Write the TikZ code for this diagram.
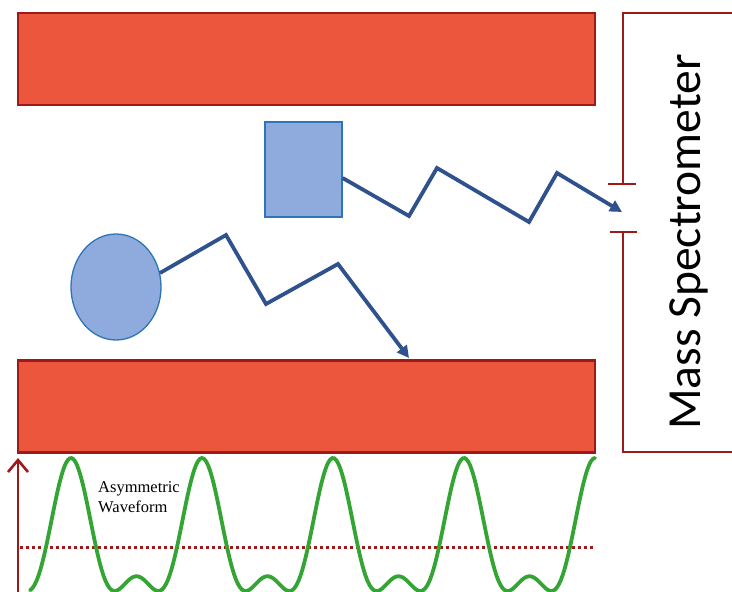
\documentclass[tikz,border=0pt]{standalone}
\usepackage{fontspec}
\setmainfont{Liberation Serif}
\newfontfamily\calib{Carlito}
\usetikzlibrary{arrows.meta,shapes.geometric}
\definecolor{plate}{RGB}{235,86,61}
\definecolor{dred}{RGB}{158,26,26}
\definecolor{ionfill}{RGB}{143,170,220}
\definecolor{ionline}{RGB}{46,117,182}
\definecolor{driftcol}{RGB}{47,82,143}
\definecolor{wave}{RGB}{52,165,52}
\tikzset{
  platebox/.style={draw=dred, fill=plate, line width=2.6pt, minimum width=577pt, minimum height=92pt, inner sep=0pt},
  ion/.style={draw=ionline, fill=ionfill, line width=1.3pt, inner sep=0pt},
  drift/.style={draw=driftcol, line width=3.8pt, -{Triangle[length=12pt,width=12pt]}},
  msline/.style={draw=dred, line width=2.8pt},
}
\begin{document}
\begin{tikzpicture}[x=1pt,y=-1pt]
\useasboundingbox (0,0) rectangle (732,592);
% plates
\node[platebox] (top) at (306.5,59) {};
\node[platebox] (bot) at (306.5,406.5) {};
% ions
\node[ion, rectangle, minimum width=77pt, minimum height=95pt] (sq) at (303.5,169.5) {};
\node[ion, ellipse, minimum width=90pt, minimum height=106pt] (el) at (116,287) {};
% mass spectrometer
\coordinate (ms1) at (732,13);
\coordinate (ms2) at (623,13);
\coordinate (ms3) at (623,184);
\coordinate (ms4) at (623,232);
\coordinate (ms5) at (623,452);
\coordinate (ms6) at (732,452);
\draw[msline] (ms1) -- (ms2) -- (ms3);
\draw[msline] (608,184) -- (636,184);
\draw[msline] (610,232) -- (637,232);
\draw[msline] (ms4) -- (ms5) -- (ms6);
\node[rotate=90, anchor=base, inner sep=0pt, font=\calib\fontsize{47.5}{50}\selectfont] (mstext) at (700,242) {Mass Spectrometer};
% drift paths
\coordinate (inlet) at (622,212);
\coordinate (hit) at (409,358);
\draw[drift] (sq.east |- 0,178) -- (409,216) -- (437,168) -- (529,222) -- (557,173) -- (inlet);
\draw[drift] (160,273) -- (226,235) -- (266,304) -- (338,264) -- (hit);
% waveform
\coordinate (axb) at (18,592);
\coordinate (axt) at (18,458);
\draw[dred, line width=2.6pt, -{Straight Barb[length=12pt,width=20pt,line width=2.6pt]}] (axb) -- (axt);
\draw[dred, line width=3pt, dash pattern=on 3pt off 3pt] (20,547) -- (595,547);
\draw[wave, line width=3.8pt, line cap=round, smooth, samples=300, domain=30:595]
  plot (\x, {546.7-88.7*((2/3)*sin((\x-71)/131*360+90) - (1/3)*cos(2*((\x-71)/131*360+90)))});
\node[anchor=north west, align=left, inner sep=0pt, font=\fontsize{16.5}{20}\selectfont] (lbl) at (98,481) {Asymmetric\\Waveform};
\end{tikzpicture}
\end{document}
